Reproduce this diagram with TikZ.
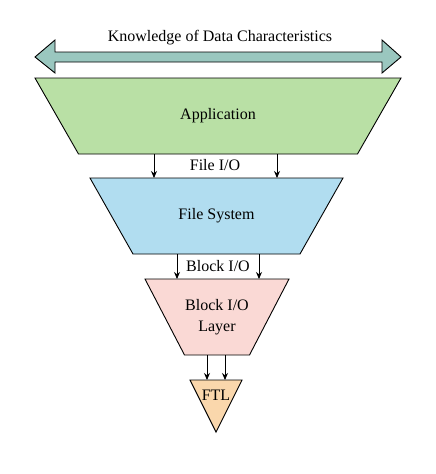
\documentclass[tikz,border=0pt]{standalone}
\usepackage{fontspec}
\setmainfont{Liberation Serif}
\usetikzlibrary{arrows.meta,backgrounds}
\definecolor{appgreen}{HTML}{B9E0A5}
\definecolor{fsblue}{HTML}{B1DDF0}
\definecolor{biored}{HTML}{FAD9D5}
\definecolor{ftlorange}{HTML}{FAD7AC}
\definecolor{arrteal}{HTML}{9AC7BF}
\begin{document}
\begin{tikzpicture}[x=1pt,y=-1pt,
  font=\fontsize{16}{21}\selectfont,
  box/.style={rectangle, inner sep=0pt, outer sep=0pt, align=center},
  shapeline/.style={draw=black, line width=0.9pt, line join=miter},
  arr/.style={-{Stealth[length=7pt,width=6pt]}, line width=0.9pt},
  lbl/.style={inner sep=0pt}]
\useasboundingbox (0,0) rectangle (436,474);
% double arrow
\draw[shapeline, fill=arrteal] (35,57) -- (55,40) -- (55,52) -- (382,52) -- (382,40)
  -- (401,57) -- (382,73) -- (382,62) -- (55,62) -- (55,73) -- cycle;
\node[lbl] (know) at (220,38) {Knowledge of Data Characteristics};
% layers (text boxes spanning each trapezium)
\node[box, minimum width=366pt, minimum height=76pt] (app) at (218,116) {Application};
\node[box, minimum width=253pt, minimum height=76pt] (fs) at (216.5,216) {File System};
\node[box, minimum width=144pt, minimum height=76pt] (bio) at (217,317) {Block I/O\\Layer};
\node[box, minimum width=52pt, minimum height=52pt] (ftl) at (216,406) {};
\node[lbl] (ftltext) at (216,395) {FTL};
\begin{scope}[on background layer]
\draw[shapeline, fill=appgreen] (app.north west) -- (app.north east)
  -- ([xshift=-43.5pt]app.south east) -- ([xshift=43.5pt]app.south west) -- cycle;
\draw[shapeline, fill=fsblue] (fs.north west) -- (fs.north east)
  -- ([xshift=-43pt]fs.south east) -- ([xshift=43pt]fs.south west) -- cycle;
\draw[shapeline, fill=biored] (bio.north west) -- (bio.north east)
  -- ([xshift=-39.5pt]bio.south east) -- ([xshift=39.5pt]bio.south west) -- cycle;
\draw[shapeline, fill=ftlorange] (ftl.north west) -- (ftl.north east) -- (ftl.south) -- cycle;
\end{scope}
% connectors
\coordinate (x1) at (154,0);
\coordinate (x2) at (277,0);
\coordinate (x3) at (177,0);
\coordinate (x4) at (259,0);
\coordinate (x5) at (207,0);
\coordinate (x6) at (225,0);
\draw[arr] (app.south -| x1) -- (fs.north -| x1);
\draw[arr] (app.south -| x2) -- (fs.north -| x2);
\draw[arr] (fs.south -| x3) -- (bio.north -| x3);
\draw[arr] (fs.south -| x4) -- (bio.north -| x4);
\draw[arr] (bio.south -| x5) -- (ftl.north -| x5);
\draw[arr] (bio.south -| x6) -- (ftl.north -| x6);
\node[lbl] (fileio) at (215,165) {File I/O};
\node[lbl] (blockio) at (218,266) {Block I/O};
\end{tikzpicture}
\end{document}
